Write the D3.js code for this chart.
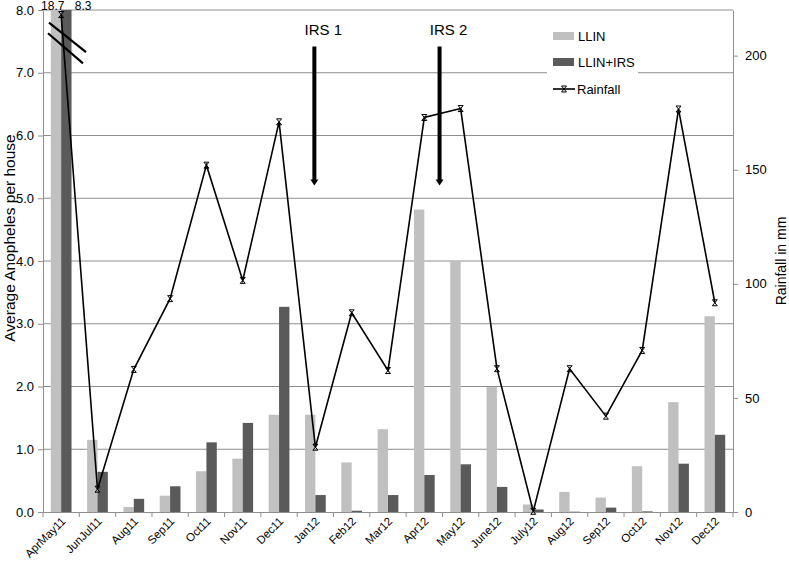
<!DOCTYPE html>
<html>
<head>
<meta charset="utf-8">
<script src="https://cdn.jsdelivr.net/npm/d3@7"></script>
<style>
  body { margin: 0; background: #fff; }
  text { font-family: "Liberation Sans", Arial, sans-serif; fill: #000; }
</style>
</head>
<body>
<svg width="789" height="565"></svg>
<script>
// data
var months = ['AprMay11','JunJul11','Aug11','Sep11','Oct11','Nov11','Dec11','Jan12','Feb12','Mar12',
              'Apr12','May12','June12','July12','Aug12','Sep12','Oct12','Nov12','Dec12'];
var llin    = [18.7, 1.15, 0.08, 0.26, 0.65, 0.85, 1.55, 1.55, 0.79, 1.32, 4.82, 4.0, 1.99, 0.12, 0.32, 0.23, 0.73, 1.75, 3.12];
var llinIrs = [8.3, 0.64, 0.21, 0.41, 1.11, 1.42, 3.27, 0.27, 0.02, 0.27, 0.59, 0.76, 0.40, 0.04, 0.005, 0.07, 0.01, 0.77, 1.23];
var rain    = [218, 10, 62.5, 93.5, 152, 101.5, 171, 28.4, 87.3, 62, 172.9, 176.8, 62.8, 0.3, 62.8, 42, 70.8, 176.6, 91.7];
var leftTicks  = [0, 1, 2, 3, 4, 5, 6, 7, 8];
var rightTicks = [0, 50, 100, 150, 200];

var svg = d3.select('svg');
var pL = 43, pR = 733, pT = 10, pB = 512;

var x = d3.scaleBand().domain(months).range([pL, pR]).padding(0);
var bw = x.bandwidth();
var xs = d3.scaleBand().domain(['llin', 'irs']).range([0, bw]).paddingInner(0).paddingOuter(0.75);
var yl = d3.scaleLinear().domain([0, 8]).range([pB, pT]).clamp(true);
var yr = d3.scaleLinear().domain([0, 220]).range([pB, pT]);

// gridlines
svg.append('g').selectAll('line').data(leftTicks.slice(1)).enter().append('line')
  .attr('x1', pL).attr('x2', pR)
  .attr('y1', function(d) { return yl(d); }).attr('y2', function(d) { return yl(d); })
  .attr('stroke', '#8e8e8e').attr('stroke-width', 1);

// bars
var bars = svg.append('g');
months.forEach(function(m, i) {
  bars.append('rect').attr('x', x(m) + xs('llin')).attr('width', xs.bandwidth())
    .attr('y', yl(llin[i])).attr('height', pB - yl(llin[i])).attr('fill', '#c0c0c0');
  bars.append('rect').attr('x', x(m) + xs('irs')).attr('width', xs.bandwidth())
    .attr('y', yl(llinIrs[i])).attr('height', pB - yl(llinIrs[i])).attr('fill', '#5a5a5a');
});

// axes
var axL = svg.append('g').attr('transform', 'translate(' + pL + ',0)')
  .call(d3.axisLeft(yl).tickValues(leftTicks).tickFormat(d3.format('.1f')).tickSizeInner(5).tickSizeOuter(0).tickPadding(4));
var axR = svg.append('g').attr('transform', 'translate(' + pR + ',0)')
  .call(d3.axisRight(yr).tickValues(rightTicks).tickSizeInner(5).tickSizeOuter(0).tickPadding(7));
var axB = svg.append('g').attr('transform', 'translate(0,' + pB + ')')
  .call(d3.axisBottom(x).tickSize(0).tickFormat(''));
[axL, axR, axB].forEach(function(a) {
  a.select('.domain').attr('stroke', '#8e8e8e');
  a.selectAll('.tick line').attr('stroke', '#8e8e8e');
  a.selectAll('text').attr('font-size', 13).style('font-family', '"Liberation Sans", Arial, sans-serif');
});

// category boundary ticks
svg.append('g').selectAll('line').data(months.concat(['end'])).enter().append('line')
  .attr('x1', function(d, i) { return pL + i * bw; }).attr('x2', function(d, i) { return pL + i * bw; })
  .attr('y1', pB).attr('y2', pB + 5).attr('stroke', '#8e8e8e');

// rotated month labels
svg.append('g').selectAll('text').data(months).enter().append('text')
  .attr('transform', function(d) { return 'translate(' + (x(d) + bw / 2 + 5) + ',' + (pB + 10) + ') rotate(-45)'; })
  .attr('text-anchor', 'end').attr('font-size', 11.5).text(function(d) { return d; });

// rainfall line
var lineGen = d3.line().x(function(d, i) { return x(months[i]) + bw / 2; }).y(function(d) { return yr(d); });
svg.append('path').datum(rain).attr('d', lineGen).attr('fill', 'none').attr('stroke', '#000').attr('stroke-width', 1.6);
var star = 'M-2.5,-3L2.5,3M-2.5,3L2.5,-3M-2.5,-3L2.5,-3M-2.5,3L2.5,3';
svg.append('g').selectAll('path').data(rain).enter().append('path')
  .attr('transform', function(d, i) { return 'translate(' + (x(months[i]) + bw / 2) + ',' + yr(d) + ')'; })
  .attr('d', star).attr('fill', 'none').attr('stroke', '#000').attr('stroke-width', 1);

// axis break marks on first category
var b0 = x(months[0]);
svg.append('line').attr('x1', b0 + 6).attr('y1', yl(7.8)).attr('x2', b0 + 43).attr('y2', yl(7.33))
  .attr('stroke', '#000').attr('stroke-width', 2.2);
svg.append('line').attr('x1', b0 + 5).attr('y1', yl(7.63)).attr('x2', b0 + 40).attr('y2', yl(7.15))
  .attr('stroke', '#000').attr('stroke-width', 2.2);

// clipped value labels
svg.append('text').attr('x', b0 + xs('llin') + 2).attr('y', 10).attr('text-anchor', 'middle')
  .attr('font-size', 12).text('18.7');
svg.append('text').attr('x', b0 + xs('irs') + 22).attr('y', 10).attr('text-anchor', 'middle')
  .attr('font-size', 12).text('8.3');

// IRS arrows
function arrow(cx, label) {
  svg.append('line').attr('x1', cx).attr('x2', cx).attr('y1', yl(7.42)).attr('y2', yl(5.28))
    .attr('stroke', '#000').attr('stroke-width', 4);
  svg.append('path').attr('d', 'M' + (cx - 4) + ',' + yl(5.3) + 'L' + (cx + 4) + ',' + yl(5.3) + 'L' + cx + ',' + (yl(5.3) + 6) + 'Z')
    .attr('fill', '#000');
  svg.append('text').attr('x', cx + 9).attr('y', 35).attr('text-anchor', 'middle')
    .attr('font-size', 15).text(label);
}
arrow(x('Jan12') + bw / 2 - 1, 'IRS 1');
arrow(x('Apr12') + bw * 0.92, 'IRS 2');

// legend
var lg = svg.append('g').attr('transform', 'translate(547,20)');
lg.append('rect').attr('width', 91).attr('height', 80).attr('fill', '#fff');
lg.append('rect').attr('x', 6).attr('y', 12).attr('width', 21).attr('height', 8).attr('fill', '#c0c0c0');
lg.append('text').attr('x', 31).attr('y', 21).attr('font-size', 13).text('LLIN');
lg.append('rect').attr('x', 6).attr('y', 38).attr('width', 21).attr('height', 8).attr('fill', '#5a5a5a');
lg.append('text').attr('x', 31).attr('y', 47).attr('font-size', 13).text('LLIN+IRS');
lg.append('line').attr('x1', 6).attr('x2', 28).attr('y1', 69).attr('y2', 69).attr('stroke', '#000').attr('stroke-width', 1.6);
lg.append('path').attr('transform', 'translate(17,69)').attr('d', star).attr('fill', 'none').attr('stroke', '#000');
lg.append('text').attr('x', 30).attr('y', 74).attr('font-size', 13).text('Rainfall');

// axis titles
svg.append('text').attr('transform', 'translate(15,238) rotate(-90)').attr('text-anchor', 'middle')
  .attr('font-size', 15.5).text('Average Anopheles per house');
svg.append('text').attr('transform', 'translate(786,261) rotate(-90)').attr('text-anchor', 'middle')
  .attr('font-size', 14).text('Rainfall in mm');
</script>
</body>
</html>
